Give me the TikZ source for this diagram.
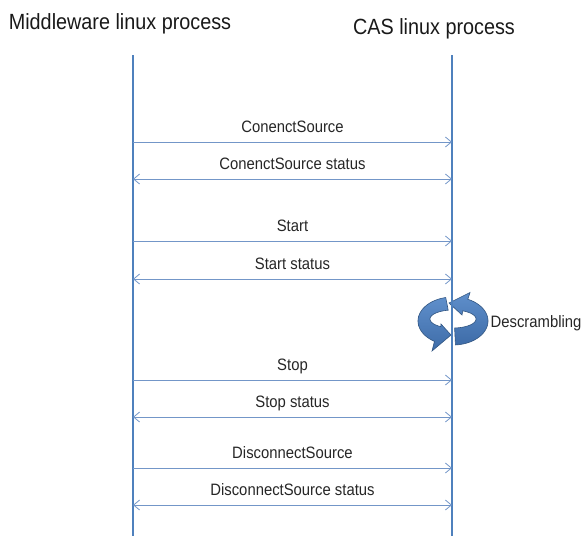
\documentclass[tikz,border=0pt]{standalone}
\usepackage{fontspec}
\setmainfont{Liberation Sans}[FakeStretch=0.9]
\usetikzlibrary{arrows.meta}
\definecolor{lifeblue}{RGB}{79,129,189}
\definecolor{msgblue}{RGB}{115,150,200}
\definecolor{ringedge}{RGB}{50,86,130}
\definecolor{ringlight}{RGB}{95,143,203}
\definecolor{ringdark}{RGB}{62,108,168}
\begin{document}
\begin{tikzpicture}[x=1pt,y=-1pt,
  lifeline/.style={draw=lifeblue, line width=2.2pt},
  barb/.tip={Straight Barb[length=6pt,width=10pt]},
  msg/.style={draw=msgblue, line width=0.8pt, -barb},
  reply/.style={draw=msgblue, line width=0.8pt, barb-barb},
  msglabel/.style={font=\fontsize{16.5}{18}\selectfont, text=black!85, anchor=base, inner sep=0pt},
  header/.style={font=\fontsize{22}{24}\selectfont, text=black!90, anchor=base, inner sep=0pt},
  ring/.style={draw=ringedge, line width=0.6pt, top color=ringlight, bottom color=ringdark}]
\useasboundingbox (0,0) rectangle (585,536);

% column headers
\node[header] (hmid) at (120,29) {Middleware linux process};
\node[header] (hcas) at (434,34) {CAS linux process};

% circular "descrambling" arrow drawn around the CAS lifeline:
% outer rim (35,24), inner rim (23,9) lifted by 2 for a tilted-band look
\begin{scope}[shift={(453,321)}, y=1pt]
  % right half: runs from the bottom, up the right side, ends pointing left at the top
  \path[ring] plot[domain=274:425, samples=50] ({35*cos(\x)},{24*sin(\x)})
    -- (17,28.5) -- (-4,18) -- (9,6)
    -- plot[domain=425:274, samples=50] ({23*cos(\x)},{2+9*sin(\x)}) -- cycle;
  % left half: runs from the top, down the left side, ends pointing right at the bottom
  \path[ring] plot[domain=102:238, samples=50] ({35*cos(\x)},{24*sin(\x)})
    -- (-21,-30) -- (-2,-14) -- (-12,-3)
    -- plot[domain=238:102, samples=50] ({23*cos(\x)},{2+9*sin(\x)}) -- cycle;
\end{scope}
\node[font=\fontsize{16.5}{18}\selectfont, text=black!85, anchor=base, inner sep=0pt] (desc) at (536,327) {Descrambling};

% lifelines
\coordinate (mtop) at (133,55);
\coordinate (mbot) at (133,536);
\coordinate (ctop) at (452,55);
\coordinate (cbot) at (452,536);
\draw[lifeline] (mtop) -- (mbot);
\draw[lifeline] (ctop) -- (cbot);

% messages between the two processes
\foreach \y/\txt/\kind [count=\i] in {
    142/ConenctSource/msg,
    179/ConenctSource status/reply,
    241/Start/msg,
    279/Start status/reply,
    380/Stop/msg,
    417/Stop status/reply,
    468/DisconnectSource/msg,
    505/DisconnectSource status/reply} {
  \coordinate (L\i) at (133,\y);
  \coordinate (R\i) at (452,\y);
  \draw[\kind] (L\i) -- (R\i);
  \node[msglabel] (t\i) at (292.5,\y-10) {\txt};
}
\end{tikzpicture}
\end{document}
